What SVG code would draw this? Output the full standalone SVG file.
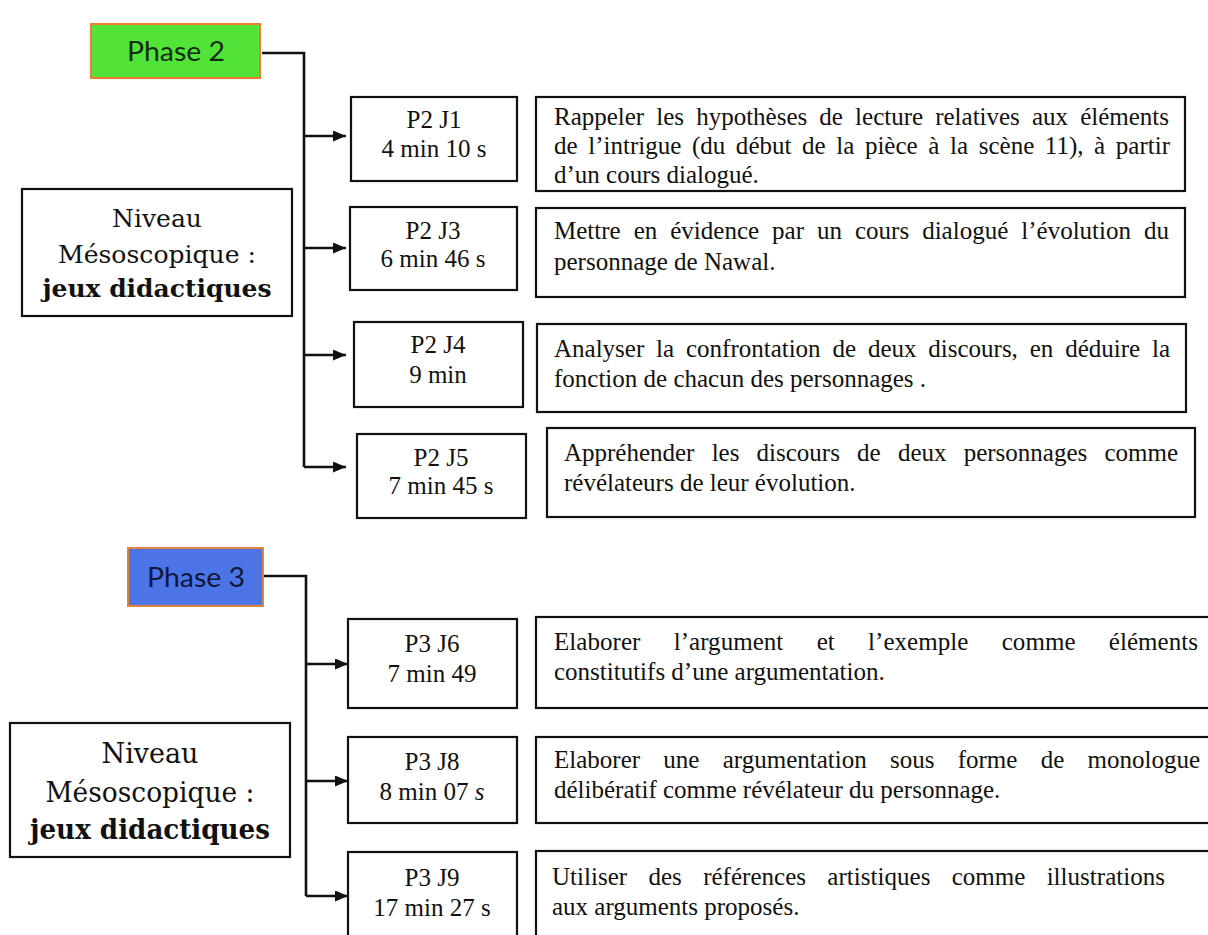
<svg xmlns="http://www.w3.org/2000/svg" width="1208" height="935" viewBox="0 0 1208 935">
<style>
.box{fill:#ffffff;stroke:#111111;stroke-width:2.2}
.lbl{font-family:"Liberation Serif","Times New Roman",serif;font-size:25px;fill:#111111;text-anchor:middle}
.desc{font-family:"Liberation Serif","Times New Roman",serif;font-size:25px;fill:#111111}
.niv{font-family:"DejaVu Serif","Liberation Serif",serif;fill:#111111;text-anchor:middle}
.phase{font-family:Lato,"Liberation Sans",sans-serif;font-size:26px;text-anchor:middle}
.conn{fill:none;stroke:#111111;stroke-width:2.6}
</style>
<defs>
<marker id="arr" markerUnits="userSpaceOnUse" markerWidth="13" markerHeight="11" refX="13" refY="5.5" orient="auto">
<path d="M0,0 L13,5.5 L0,11 Z" fill="#111111"/>
</marker>
</defs>
<rect width="1208" height="935" fill="#ffffff"/>

<g id="connectors">
<path class="conn" d="M262,53 H304 V467"/>
<path class="conn" d="M304,136 H346" marker-end="url(#arr)"/>
<path class="conn" d="M304,248 H346" marker-end="url(#arr)"/>
<path class="conn" d="M304,355 H346" marker-end="url(#arr)"/>
<path class="conn" d="M304,467 H346" marker-end="url(#arr)"/>
<path class="conn" d="M263,576 H306 V896"/>
<path class="conn" d="M306,664 H348" marker-end="url(#arr)"/>
<path class="conn" d="M306,781 H348" marker-end="url(#arr)"/>
<path class="conn" d="M306,896 H348" marker-end="url(#arr)"/>
</g>

<g id="phase2">
<rect x="91" y="24" width="169" height="54" fill="#52e338" stroke="#ed7d31" stroke-width="2"/>
<text class="phase" x="176" y="61" fill="#142a14" textLength="98" lengthAdjust="spacingAndGlyphs">Phase 2</text>
</g>

<g id="niveau1">
<rect class="box" x="22" y="189" width="270" height="127"/>
<text class="niv" x="157" y="227" font-size="25">Niveau</text>
<text class="niv" x="157" y="263" font-size="25" textLength="198" lengthAdjust="spacingAndGlyphs">Mésoscopique :</text>
<text class="niv" x="157" y="297" font-size="25" font-weight="bold" textLength="229" lengthAdjust="spacingAndGlyphs">jeux didactiques</text>
</g>

<g id="p2j1">
<rect class="box" x="351" y="97" width="166" height="84"/>
<text class="lbl" x="434" y="128">P2 J1</text>
<text class="lbl" x="434" y="157">4 min 10 s</text>
</g>
<g id="p2j1-desc">
<rect class="box" x="536" y="97" width="649" height="94"/>
<text class="desc" x="554" y="125" word-spacing="5.9" textLength="615">Rappeler les hypothèses de lecture relatives aux éléments</text>
<text class="desc" x="554" y="154" word-spacing="4.3" textLength="616">de l’intrigue (du début de la pièce à la scène 11), à partir</text>
<text class="desc" x="554" y="183">d’un cours dialogué.</text>
</g>

<g id="p2j3">
<rect class="box" x="350" y="207" width="167" height="83"/>
<text class="lbl" x="433" y="239">P2 J3</text>
<text class="lbl" x="433" y="267">6 min 46 s</text>
</g>
<g id="p2j3-desc">
<rect class="box" x="536" y="208" width="649" height="89"/>
<text class="desc" x="554" y="239" word-spacing="6.7" textLength="615">Mettre en évidence par un cours dialogué l’évolution du</text>
<text class="desc" x="554" y="270">personnage de Nawal.</text>
</g>

<g id="p2j4">
<rect class="box" x="354" y="322" width="169" height="85"/>
<text class="lbl" x="438" y="353">P2 J4</text>
<text class="lbl" x="438" y="383">9 min</text>
</g>
<g id="p2j4-desc">
<rect class="box" x="537" y="324" width="649" height="88"/>
<text class="desc" x="554" y="357" word-spacing="5.6" textLength="616">Analyser la confrontation de deux discours, en déduire la</text>
<text class="desc" x="554" y="387">fonction de chacun des personnages .</text>
</g>

<g id="p2j5">
<rect class="box" x="357" y="434" width="169" height="84"/>
<text class="lbl" x="441" y="466">P2 J5</text>
<text class="lbl" x="441" y="494">7 min 45 s</text>
</g>
<g id="p2j5-desc">
<rect class="box" x="547" y="428" width="648" height="89"/>
<text class="desc" x="564" y="461" word-spacing="11" textLength="614">Appréhender les discours de deux personnages comme</text>
<text class="desc" x="564" y="491">révélateurs de leur évolution.</text>
</g>

<g id="phase3">
<rect x="128" y="548" width="135" height="58" fill="#4d74e6" stroke="#e0863a" stroke-width="2"/>
<text class="phase" x="196" y="587" fill="#0e1838" textLength="98" lengthAdjust="spacingAndGlyphs">Phase 3</text>
</g>

<g id="niveau2">
<rect class="box" x="10" y="723" width="280" height="134"/>
<text class="niv" x="150" y="763" font-size="27">Niveau</text>
<text class="niv" x="150" y="802" font-size="27" textLength="209" lengthAdjust="spacingAndGlyphs">Mésoscopique :</text>
<text class="niv" x="150" y="839" font-size="27" font-weight="bold" textLength="240" lengthAdjust="spacingAndGlyphs">jeux didactiques</text>
</g>

<g id="p3j6">
<rect class="box" x="348" y="619" width="169" height="89"/>
<text class="lbl" x="432" y="652">P3 J6</text>
<text class="lbl" x="432" y="682">7 min 49</text>
</g>
<g id="p3j6-desc">
<rect class="box" x="536" y="617" width="680" height="91"/>
<text class="desc" x="554" y="650" word-spacing="27" textLength="644">Elaborer l’argument et l’exemple comme éléments</text>
<text class="desc" x="554" y="680">constitutifs d’une argumentation.</text>
</g>

<g id="p3j8">
<rect class="box" x="348" y="737" width="169" height="86"/>
<text class="lbl" x="432" y="770">P3 J8</text>
<text class="lbl" x="432" y="800">8 min 07 <tspan font-style="italic">s</tspan></text>
</g>
<g id="p3j8-desc">
<rect class="box" x="536" y="737" width="680" height="86"/>
<text class="desc" x="554" y="768" word-spacing="17" textLength="646">Elaborer une argumentation sous forme de monologue</text>
<text class="desc" x="554" y="798">délibératif comme révélateur du personnage.</text>
</g>

<g id="p3j9">
<rect class="box" x="348" y="852" width="169" height="95"/>
<text class="lbl" x="432" y="886">P3 J9</text>
<text class="lbl" x="432" y="916">17 min 27 s</text>
</g>
<g id="p3j9-desc">
<rect class="box" x="536" y="851" width="680" height="96"/>
<text class="desc" x="552" y="885" word-spacing="15" textLength="613">Utiliser des références artistiques comme illustrations</text>
<text class="desc" x="552" y="915">aux arguments proposés.</text>
</g>
</svg>
